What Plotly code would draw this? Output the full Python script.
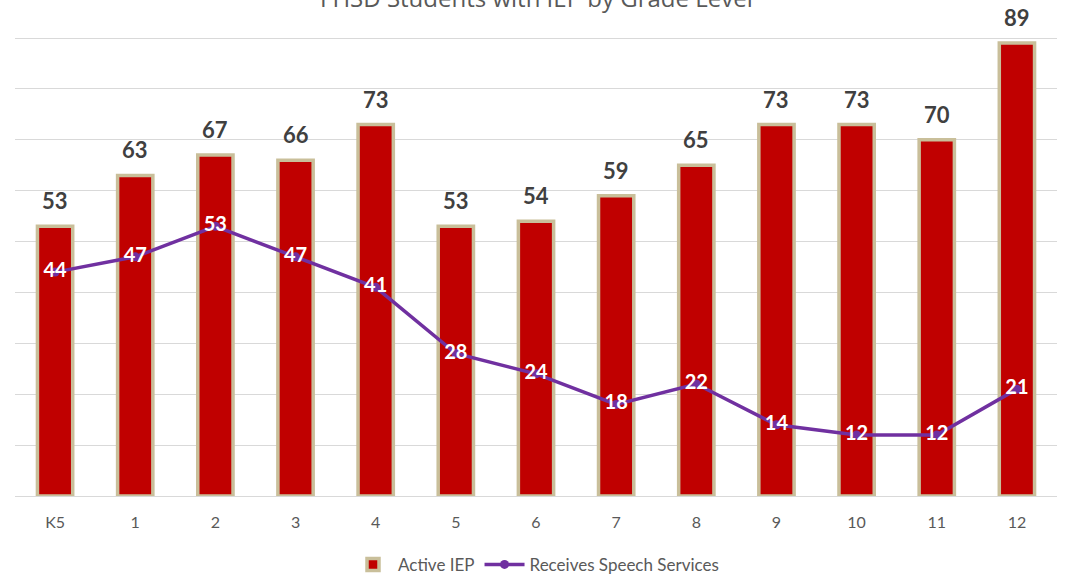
import plotly.graph_objects as go

grades = ["K5", "1", "2", "3", "4", "5", "6", "7", "8", "9", "10", "11", "12"]
active_iep = [53, 63, 67, 66, 73, 53, 54, 59, 65, 73, 73, 70, 89]
speech = [44, 47, 53, 47, 41, 28, 24, 18, 22, 14, 12, 12, 21]

FONT = "Lato"

fig = go.Figure()
fig.add_trace(go.Bar(
    x=grades, y=active_iep, name="Active IEP",
    marker=dict(color="#C00000", line=dict(color="#C9BF9A", width=3.5)),
    width=0.44,
))
fig.add_trace(go.Scatter(
    x=grades, y=speech, name="Receives Speech Services",
    mode="lines+markers+text",
    line=dict(color="#7030A0", width=3.5),
    marker=dict(color="#7030A0", size=9),
    text=speech, textposition="middle center",
    textfont=dict(family=FONT, size=20, color="white", weight="bold"),
))

annotations = [
    dict(x=g, y=v, xref="x", yref="y", text=str(v), showarrow=False,
         yanchor="bottom", yshift=10,
         font=dict(family=FONT, size=22, color="#404040", weight="bold"))
    for g, v in zip(grades, active_iep)
]
annotations.append(dict(text="FHSD Students with IEP by Grade Level", xref="paper", yref="paper",
                        x=0.5, y=1.087, yanchor="middle", showarrow=False,
                        font=dict(family="Open Sans", size=24, color="#595959")))

fig.update_layout(
    width=1067, height=577,
    margin=dict(l=15, r=10, t=37, b=81, autoexpand=False),
    paper_bgcolor="white", plot_bgcolor="white",
    font=dict(family=FONT, color="#595959"),
    showlegend=True,
    legend=dict(orientation="h", xanchor="center", x=0.5, yref="paper",
                y=-0.15, yanchor="middle", font=dict(size=17, color="#595959"),
                traceorder="normal", itemwidth=40),
    annotations=annotations,
)
fig.update_yaxes(range=[0, 90.2], dtick=10, showticklabels=False, gridcolor="#D9D9D9",
                 gridwidth=1, zeroline=False, automargin=False)
fig.update_xaxes(range=[-0.5, 12.5], showline=True, linecolor="#D9D9D9", linewidth=1, ticks="",
                 ticklabelstandoff=12,
                 tickfont=dict(family=FONT, size=16, color="#595959"), automargin=False)

fig.write_html("out.html", config={"displayModeBar": False},
               post_script="document.body.style.margin='0';document.body.style.overflow='hidden';")
